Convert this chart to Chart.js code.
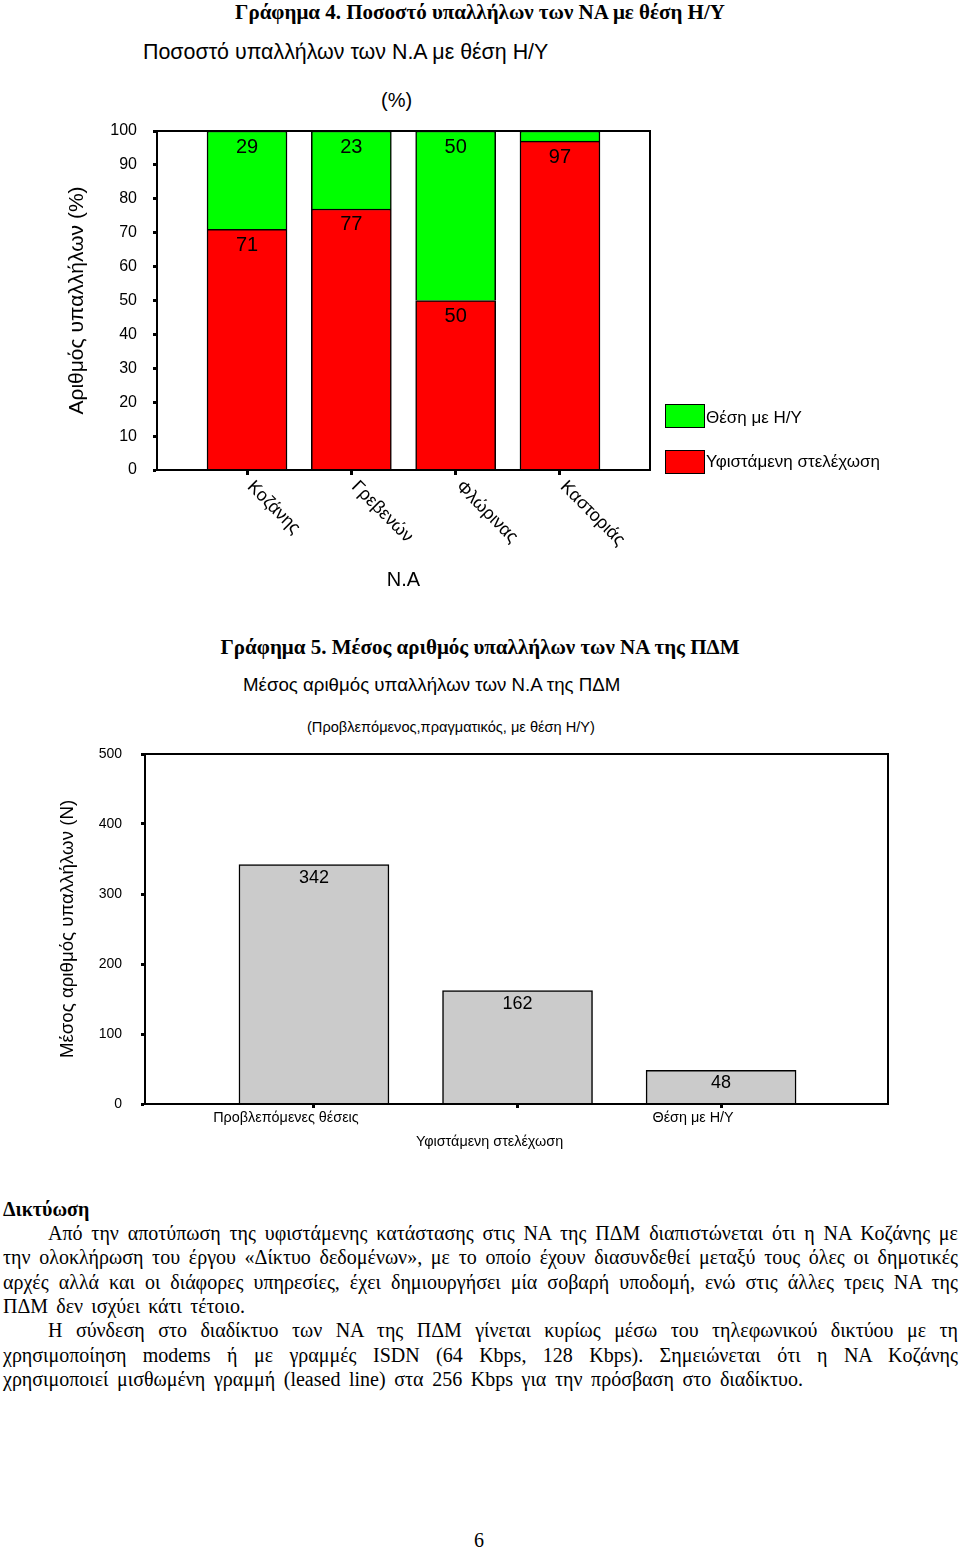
<!DOCTYPE html>
<html>
<head>
<meta charset="utf-8">
<script src="https://cdn.jsdelivr.net/npm/chart.js@4.4.1/dist/chart.umd.min.js"></script>
<style>
	body { margin: 0; background: #fff; width: 960px; height: 1550px; position: relative; overflow: hidden; font-family: "Liberation Sans", Arial, sans-serif; color: #000; }
	.t { position: absolute; white-space: nowrap; height: 24px; line-height: 24px; }
	.h { font-family: "Liberation Serif", "Times New Roman", serif; font-weight: bold; font-size: 21px; left: 0; width: 960px; text-align: center; }
	.box { position: absolute; width: 38px; height: 22px; border: 1px solid #000; }
	.jl { position: absolute; white-space: pre; font-family: "Liberation Serif", "Times New Roman", serif; font-size: 20px; height: 24px; line-height: 24px; }
	canvas { position: absolute; }
</style>
</head>
<body>
<div class="t h" style="top:0px">Γράφημα 4. Ποσοστό υπαλλήλων των ΝΑ με θέση Η/Υ</div>
<div class="t" style="top:40px;left:143px;font-size:21.4px">Ποσοστό υπαλλήλων των Ν.Α με θέση Η/Υ</div>
<div class="t" style="top:88px;left:381px;font-size:20px">(%)</div>

<canvas id="grafima4" width="860" height="480" style="left:40px;top:115px"></canvas>

<div class="box" style="left:665px;top:404px;background:#00ff00"></div>
<div class="t" style="top:406px;left:706px;font-size:17px">Θέση με Η/Υ</div>
<div class="box" style="left:665px;top:450px;background:#ff0000"></div>
<div class="t" style="top:450px;left:706px;font-size:17px">Υφιστάμενη στελέχωση</div>

<div class="t h" style="top:635px">Γράφημα 5. Μέσος αριθμός υπαλλήλων των ΝΑ της ΠΔΜ</div>
<div class="t" style="top:673px;left:243px;font-size:18.7px">Μέσος αριθμός υπαλλήλων των Ν.Α της ΠΔΜ</div>
<div class="t" style="top:715px;left:307px;font-size:14.6px">(Προβλεπόμενος,πραγματικός, με θέση Η/Υ)</div>

<canvas id="grafima5" width="860" height="420" style="left:40px;top:740px"></canvas>

<div class="jl" style="top:1197px;left:3px;font-weight:bold">Δικτύωση</div>
<span class="jl" data-w="910" style="top:1221px;left:48px">Από την αποτύπωση της υφιστάμενης κατάστασης στις ΝΑ της ΠΔΜ διαπιστώνεται ότι η ΝΑ Κοζάνης με</span>
<span class="jl" data-w="955" style="top:1245px;left:3px">την ολοκλήρωση του έργου «Δίκτυο δεδομένων», με το οποίο έχουν διασυνδεθεί μεταξύ τους όλες οι δημοτικές</span>
<span class="jl" data-w="955" style="top:1270px;left:3px">αρχές αλλά και οι διάφορες υπηρεσίες, έχει δημιουργήσει μία σοβαρή υποδομή, ενώ στις άλλες τρεις ΝΑ της</span>
<span class="jl" data-w="242" style="top:1294px;left:3px">ΠΔΜ δεν ισχύει κάτι τέτοιο.</span>
<span class="jl" data-w="910" style="top:1318px;left:48px">Η σύνδεση στο διαδίκτυο των ΝΑ της ΠΔΜ γίνεται κυρίως μέσω του τηλεφωνικού δικτύου με τη</span>
<span class="jl" data-w="955" style="top:1343px;left:3px">χρησιμοποίηση modems ή με γραμμές ISDN (64 Kbps, 128 Kbps). Σημειώνεται ότι η ΝΑ Κοζάνης</span>
<span class="jl" data-w="800" style="top:1367px;left:3px">χρησιμοποιεί μισθωμένη γραμμή (leased line) στα 256 Kbps για την πρόσβαση στο διαδίκτυο.</span>

<div class="jl" style="top:1528px;left:474px">6</div>

<script>
	// Γράφημα 4
	const nomoi = ["Κοζάνης", "Γρεβενών", "Φλώρινας", "Καστοριάς"];
	const ypostamenh = [71, 77, 50, 97];
	const thesiHY = [29, 23, 50, 3];

	// Γράφημα 5
	const kathgories = ["Προβλεπόμενες θέσεις", "Υφιστάμενη στελέχωση", "Θέση με Η/Υ"];
	const mesosArithmos = [342, 162, 48];

	Chart.defaults.font.family = '"Liberation Sans", Arial, sans-serif';
	Chart.defaults.color = "#000";
	Chart.defaults.animation = false;

	// πλαίσιο γύρω από την περιοχή του γραφήματος
	const plaisio = {
		id: "plaisio",
		afterDraw(chart) {
			const { ctx, chartArea: a } = chart;
			ctx.save();
			ctx.strokeStyle = "#000";
			ctx.lineWidth = 2;
			ctx.strokeRect(a.left, a.top, a.right - a.left, a.bottom - a.top);
			ctx.restore();
		},
	};

	// τιμές μέσα στις μπάρες
	function etiketes(size, dy) {
		return {
			id: "etiketes",
			afterDatasetsDraw(chart) {
				const ctx = chart.ctx;
				ctx.save();
				ctx.fillStyle = "#000";
				ctx.font = size + 'px "Liberation Sans", Arial, sans-serif';
				ctx.textAlign = "center";
				ctx.textBaseline = "middle";
				chart.data.datasets.forEach((ds, d) => {
					chart.getDatasetMeta(d).data.forEach((bar, i) => {
						const v = ds.data[i].y;
						if (v < 5) return;
						ctx.fillText(v, bar.x, bar.y + dy);
					});
				});
				ctx.restore();
			},
		};
	}

	const ctx4 = document.getElementById("grafima4");
	new Chart(ctx4, {
		type: "bar",
		data: {
			datasets: [
				{
					label: "Υφιστάμενη στελέχωση",
					data: ypostamenh.map((v, i) => ({ x: i + 1, y: v })),
					backgroundColor: "#ff0000",
					borderColor: "#000",
					borderWidth: 1.5,
					barThickness: 80,
				},
				{
					label: "Θέση με Η/Υ",
					data: thesiHY.map((v, i) => ({ x: i + 1, y: v })),
					backgroundColor: "#00ff00",
					borderColor: "#000",
					borderWidth: 1.5,
					barThickness: 80,
				},
			],
		},
		options: {
			responsive: false,
			layout: { autoPadding: false, padding: { top: 16, right: 250, bottom: 0, left: 0 } },
			scales: {
				x: {
					type: "linear",
					offset: false,
					stacked: true,
					min: 0.137,
					max: 4.863,
					afterBuildTicks: (s) => { s.ticks = nomoi.map((n, i) => ({ value: i + 1 })); },
					afterFit: (s) => { s.height = 125; },
					ticks: { display: false },
					grid: { offset: false, drawOnChartArea: false, tickLength: 5, tickWidth: 3, tickColor: "#000" },
					border: { color: "#000", width: 2 },
					title: { display: true, text: "Ν.Α", font: { size: 20 }, padding: { top: 0, bottom: 3 } },
				},
				y: {
					stacked: true,
					min: 0,
					max: 100,
					afterFit: (s) => { s.width = 117; s.paddingTop = 0; s.paddingBottom = 0; },
					ticks: { stepSize: 10, font: { size: 16 }, padding: 16 },
					grid: { drawOnChartArea: false, tickLength: 4, tickWidth: 3, tickColor: "#000" },
					border: { color: "#000", width: 2 },
					title: { display: true, text: "Αριθμός υπαλλήλων (%)", font: { size: 21 }, padding: { top: 25, bottom: 0 } },
				},
			},
			plugins: {
				legend: { display: false },
				tooltip: { enabled: false },
			},
		},
		plugins: [
			plaisio,
			etiketes(20, 16),
			{
				id: "plagiesEtiketes",
				afterDraw(chart) {
					const { ctx, chartArea: a } = chart;
					const x = chart.scales.x;
					ctx.save();
					ctx.fillStyle = "#000";
					ctx.font = '18px "Liberation Sans", Arial, sans-serif';
					ctx.textAlign = "left";
					ctx.textBaseline = "middle";
					nomoi.forEach((n, i) => {
						ctx.save();
						ctx.translate(x.getPixelForValue(i + 1) + 3, a.bottom + 14);
						ctx.rotate(Math.PI / 4);
						ctx.fillText(n, 0, 0);
						ctx.restore();
					});
					ctx.restore();
				},
			},
		],
	});

	const ctx5 = document.getElementById("grafima5");
	new Chart(ctx5, {
		type: "bar",
		data: {
			datasets: [
				{
					label: "Μέσος αριθμός",
					data: mesosArithmos.map((v, i) => ({ x: i + 1, y: v })),
					backgroundColor: "#cbcbcb",
					borderColor: "#000",
					borderWidth: 1.5,
					barThickness: 150,
				},
			],
		},
		options: {
			responsive: false,
			layout: { autoPadding: false, padding: { top: 14, right: 12, bottom: 0, left: 0 } },
			scales: {
				x: {
					type: "linear",
					offset: false,
					min: 0.17,
					max: 3.82,
					afterBuildTicks: (s) => { s.ticks = kathgories.map((k, i) => ({ value: i + 1 })); },
					afterFit: (s) => { s.height = 56; },
					ticks: { display: false },
					grid: { offset: false, drawOnChartArea: false, tickLength: 4, tickWidth: 3, tickColor: "#000" },
					border: { color: "#000", width: 2 },
				},
				y: {
					min: 0,
					max: 500,
					afterFit: (s) => { s.width = 105; s.paddingTop = 0; s.paddingBottom = 0; },
					ticks: { stepSize: 100, font: { size: 14 }, padding: 19 },
					grid: { drawOnChartArea: false, tickLength: 4, tickWidth: 3, tickColor: "#000" },
					border: { color: "#000", width: 2 },
					title: { display: true, text: "Μέσος αριθμός υπαλλήλων (Ν)", font: { size: 18.7 }, padding: { top: 17, bottom: 0 } },
				},
			},
			plugins: {
				legend: { display: false },
				tooltip: { enabled: false },
			},
		},
		plugins: [
			plaisio,
			etiketes(18, 13),
			{
				id: "katwEtiketes",
				afterDraw(chart) {
					const { ctx, chartArea: a } = chart;
					const x = chart.scales.x;
					ctx.save();
					ctx.fillStyle = "#000";
					ctx.font = '14.4px "Liberation Sans", Arial, sans-serif';
					ctx.textAlign = "center";
					ctx.textBaseline = "middle";
					kathgories.forEach((k, i) => {
						const dy = i % 2 === 1 ? 38 : 14;
						ctx.fillText(k, x.getPixelForValue(i + 1) - 28, a.bottom + dy);
					});
					ctx.restore();
				},
			},
		],
	});

	// στοίχιση των γραμμών του κειμένου
	document.querySelectorAll("span.jl").forEach((el) => {
		const target = parseFloat(el.dataset.w);
		const w = el.getBoundingClientRect().width;
		const n = (el.textContent.match(/ /g) || []).length;
		if (n) el.style.wordSpacing = (target - w) / n + "px";
	});
</script>
</body>
</html>
